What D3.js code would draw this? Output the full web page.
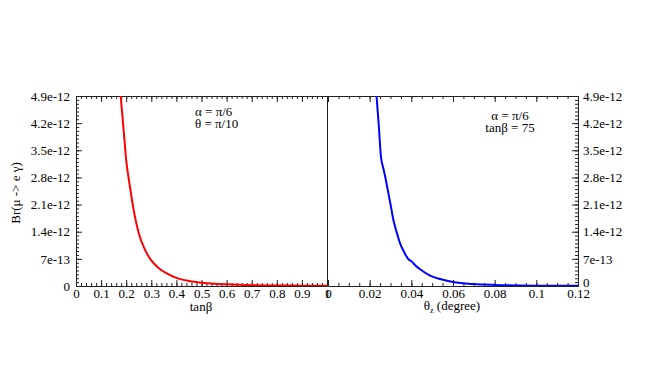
<!DOCTYPE html>
<html>
<head>
<meta charset="utf-8">
<script src="https://cdn.jsdelivr.net/npm/d3@7.9.0/dist/d3.min.js"></script>
<style>
  body { margin: 0; background: #fff; }
  svg { display: block; }
  .axis path, .axis line { stroke: #222; }
</style>
</head>
<body>
<svg width="654" height="382" font-family="'Liberation Serif', 'DejaVu Serif', serif"></svg>
<script>
// left panel: Br vs tanB (values in units of 1e-12)
const tanBeta = [0.178, 0.19, 0.2, 0.215, 0.23, 0.25, 0.275, 0.3, 0.33, 0.36, 0.4, 0.45, 0.5, 0.55, 0.6, 0.65, 0.7, 0.8, 0.9, 1.0];
const brLeft = [4.9, 4.0, 3.25, 2.56, 1.95, 1.36, 0.93, 0.66, 0.46, 0.33, 0.21, 0.13, 0.085, 0.058, 0.042, 0.03, 0.022, 0.013, 0.008, 0.005];

// right panel: Br vs theta_z (degree)
const thetaZ = [0.0233, 0.0244, 0.0254, 0.0265, 0.0276, 0.029, 0.0302, 0.0314, 0.033, 0.0346, 0.0366, 0.0386, 0.0402, 0.042, 0.0442, 0.049, 0.0538, 0.06, 0.07, 0.08, 0.09, 0.1, 0.11, 0.12];
const brRight = [4.9, 4.12, 3.34, 3.05, 2.78, 2.39, 2.05, 1.70, 1.38, 1.10, 0.87, 0.69, 0.63, 0.53, 0.43, 0.27, 0.18, 0.105, 0.05, 0.027, 0.015, 0.009, 0.006, 0.004];

const yTicks = [0, 0.7e-12, 1.4e-12, 2.1e-12, 2.8e-12, 3.5e-12, 4.2e-12, 4.9e-12];
const yTickLabels = ["0", "7e-13", "1.4e-12", "2.1e-12", "2.8e-12", "3.5e-12", "4.2e-12", "4.9e-12"];
const xLeftTicks = [0, 0.1, 0.2, 0.3, 0.4, 0.5, 0.6, 0.7, 0.8, 0.9, 1];
const xLeftLabels = ["0", "0.1", "0.2", "0.3", "0.4", "0.5", "0.6", "0.7", "0.8", "0.9", "1"];
const xRightTicks = [0, 0.02, 0.04, 0.06, 0.08, 0.1, 0.12];
const xRightLabels = ["0", "0.02", "0.04", "0.06", "0.08", "0.1", "0.12"];

const serif = "'Liberation Serif', 'DejaVu Serif', serif";
const svg = d3.select("svg");
const yTop = 96, yBottom = 286;

let xL = d3.scaleLinear().domain([0, 1]).range([76, 327]);
let xR = d3.scaleLinear().domain([0, 0.12]).range([328, 578]);
let y = d3.scaleLinear().domain([0, 4.9e-12]).range([yBottom, yTop]);

const minorY = d3.range(0, 50).map(i => i * 1e-13);
const minorXL = d3.range(0, 51).map(i => i * 0.02);
const minorXR = d3.range(0, 25).map(i => i * 0.005);

svg.append("defs").append("clipPath").attr("id", "clipL")
  .append("rect").attr("x", 76).attr("y", yTop).attr("width", 251).attr("height", yBottom - yTop);
svg.select("defs").append("clipPath").attr("id", "clipR")
  .append("rect").attr("x", 328).attr("y", yTop).attr("width", 250).attr("height", yBottom - yTop);

function styleAxis(g) {
  g.attr("class", "axis").attr("font-size", 13).attr("font-family", serif);
  g.selectAll("text").attr("fill", "#000");
}

// bottom axes
[[xL, xLeftTicks, xLeftLabels, minorXL], [xR, xRightTicks, xRightLabels, minorXR]].forEach(([x, tv, tl, mv]) => {
  svg.append("g").attr("transform", `translate(0,${yBottom})`)
    .call(d3.axisBottom(x).tickValues(mv).tickSize(-3).tickSizeOuter(0).tickFormat(""))
    .call(styleAxis);
  svg.append("g").attr("transform", `translate(0,${yBottom})`)
    .call(d3.axisBottom(x).tickValues(tv).tickSize(-6).tickSizeOuter(0).tickPadding(3)
      .tickFormat((d, i) => tl[i]))
    .call(styleAxis);
  // top mirror
  svg.append("g").attr("transform", `translate(0,${yTop})`)
    .call(d3.axisTop(x).tickValues(mv).tickSize(-3).tickSizeOuter(0).tickFormat(""))
    .call(styleAxis);
  svg.append("g").attr("transform", `translate(0,${yTop})`)
    .call(d3.axisTop(x).tickValues(tv).tickSize(-6).tickSizeOuter(0).tickFormat(""))
    .call(styleAxis);
});

// left y axis
svg.append("g").attr("transform", "translate(76,0)")
  .call(d3.axisLeft(y).tickValues(minorY).tickSize(-3).tickSizeOuter(0).tickFormat(""))
  .call(styleAxis);
svg.append("g").attr("transform", "translate(76,0)")
  .call(d3.axisLeft(y).tickValues(yTicks).tickSize(-6).tickSizeOuter(0).tickPadding(6)
    .tickFormat((d, i) => yTickLabels[i]))
  .call(styleAxis);

// right y axis
svg.append("g").attr("transform", "translate(578,0)")
  .call(d3.axisRight(y).tickValues(minorY).tickSize(-3).tickSizeOuter(0).tickFormat(""))
  .call(styleAxis);
const rightAxis = svg.append("g").attr("transform", "translate(578,0)")
  .call(d3.axisRight(y).tickValues(yTicks).tickSize(-6).tickSizeOuter(0).tickPadding(5)
    .tickFormat((d, i) => yTickLabels[i]))
  .call(styleAxis);
// the zero label sits a bit higher, over the 0.12 label
rightAxis.selectAll(".tick text").filter(d => d === 0).attr("dy", "0.05em");

// shared middle divider
svg.append("line").attr("x1", 327.5).attr("x2", 327.5).attr("y1", yTop).attr("y2", yBottom)
  .attr("stroke", "#222");

// curves
const lineL = d3.line().x((d, i) => xL(tanBeta[i])).y(d => y(d * 1e-12)).curve(d3.curveMonotoneX);
const lineR = d3.line().x((d, i) => xR(thetaZ[i])).y(d => y(d * 1e-12)).curve(d3.curveMonotoneX);

svg.append("path").attr("d", lineL(brLeft)).attr("fill", "none")
  .attr("stroke", "#ff0000").attr("stroke-width", 2).attr("clip-path", "url(#clipL)");
svg.append("path").attr("d", lineR(brRight)).attr("fill", "none")
  .attr("stroke", "#0000ff").attr("stroke-width", 2).attr("clip-path", "url(#clipR)");

// axis titles
svg.append("text").attr("transform", "translate(20,193) rotate(-90)")
  .attr("text-anchor", "middle").attr("font-size", 13).text("Br(\u03bc -> e \u03b3)");
svg.append("text").attr("x", 201).attr("y", 311).attr("text-anchor", "middle")
  .attr("font-size", 13).text("tan\u03b2");
const tz = svg.append("text").attr("x", 452).attr("y", 310).attr("text-anchor", "middle")
  .attr("font-size", 13);
tz.append("tspan").text("\u03b8");
tz.append("tspan").attr("font-size", 8).attr("dy", 3).text("z");
tz.append("tspan").attr("dy", -3).text(" (degree)");

// annotations
svg.append("text").attr("x", 195).attr("y", 116).attr("font-size", 13).text("\u03b1 = \u03c0/6");
svg.append("text").attr("x", 195).attr("y", 128).attr("font-size", 13).text("\u03b8 = \u03c0/10");
svg.append("text").attr("x", 510).attr("y", 120).attr("text-anchor", "middle").attr("font-size", 13).text("\u03b1 = \u03c0/6");
svg.append("text").attr("x", 510).attr("y", 132).attr("text-anchor", "middle").attr("font-size", 13).text("tan\u03b2 = 75");
</script>
</body>
</html>
